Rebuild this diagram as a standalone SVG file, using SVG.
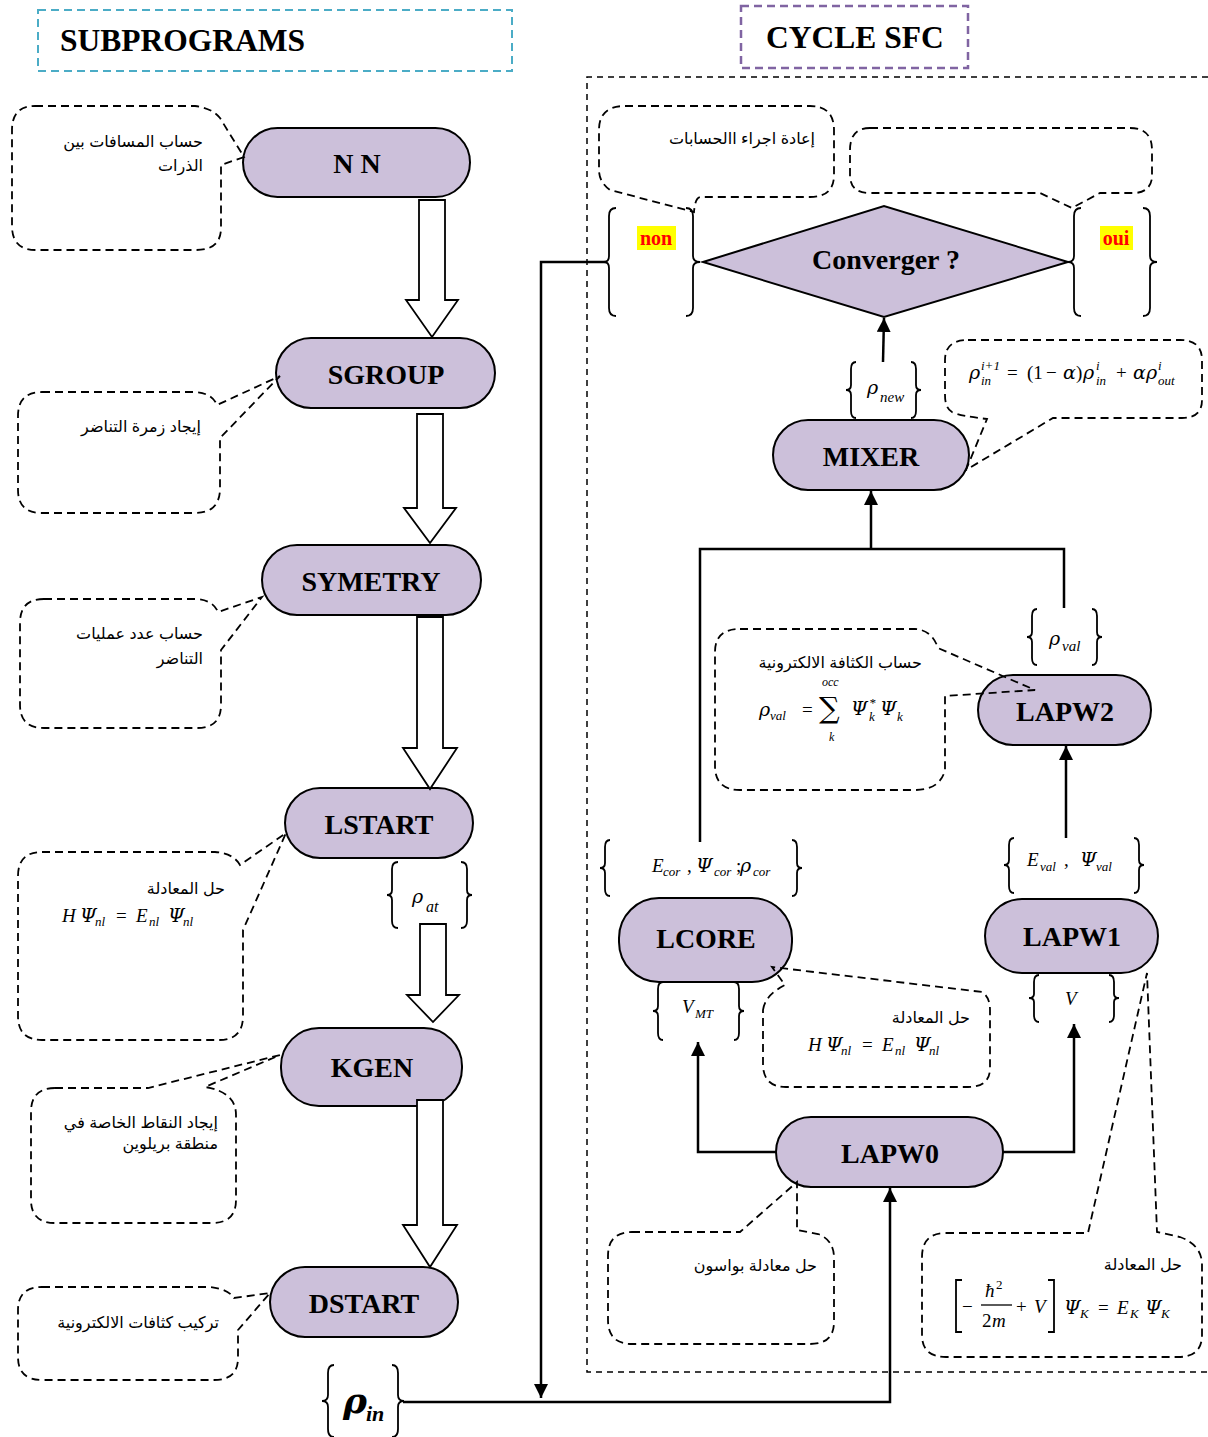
<svg xmlns="http://www.w3.org/2000/svg" width="1208" height="1437" viewBox="0 0 1208 1437">
<defs>
<marker id="ah" markerUnits="userSpaceOnUse" markerWidth="14" markerHeight="16" refX="14" refY="7" orient="auto">
<path d="M0,0 L14,7 L0,14 Z" fill="#000"/>
</marker>
<style>
.node{fill:#CCC0DA;stroke:#000;stroke-width:2}
.nt{font-family:"Liberation Serif","Times New Roman",serif;font-weight:bold;font-size:28px;fill:#000;text-anchor:middle}
.blk{fill:#fff;stroke:#000;stroke-width:1.8}
.co{fill:none;stroke:#000;stroke-width:1.8;stroke-dasharray:8 5}
.br{fill:none;stroke:#000;stroke-width:1.8}
.ln{fill:none;stroke:#000;stroke-width:2.5}
.ar{font-family:"Liberation Sans","DejaVu Sans",sans-serif;font-size:16px;fill:#000;text-anchor:end}
.m{font-family:"Liberation Serif","DejaVu Serif",serif;font-style:italic;font-size:19px;fill:#000}
.g{font-family:"DejaVu Serif",serif;font-style:italic}
.u{font-style:normal}
.s{font-size:13px}
</style>
</defs>
<rect width="1208" height="1437" fill="#fff"/>

<g id="title-sub">
<rect x="38" y="10" width="474" height="61" fill="none" stroke="#4BACC6" stroke-width="2" stroke-dasharray="8 5"/>
<text x="60" y="51" font-family="Liberation Serif,serif" font-weight="bold" font-size="31.5">SUBPROGRAMS</text>
</g>
<g id="title-cycle">
<rect x="741" y="6" width="227" height="62" fill="none" stroke="#8064A2" stroke-width="2.5" stroke-dasharray="8 5"/>
<text x="766" y="48" font-family="Liberation Serif,serif" font-weight="bold" font-size="31.5">CYCLE SFC</text>
</g>
<g id="cycle-frame">
<path d="M1208,77 H587 V1372 H1208" fill="none" stroke="#000" stroke-width="1.5" stroke-dasharray="6 5"/>
</g>

<g id="connectors">
<path class="ln" d="M606,262 H541 V1398" marker-end="url(#ah)"/>
<path class="ln" d="M403,1402 H890 V1188" marker-end="url(#ah)"/>
<path class="ln" d="M776,1152 H698 V1042" marker-end="url(#ah)"/>
<path class="ln" d="M1003,1152 H1074 V1024" marker-end="url(#ah)"/>
<path class="ln" d="M1066,838 V746" marker-end="url(#ah)"/>
<path class="ln" d="M700,842 V549 H1064 V608"/>
<path class="ln" d="M871,549 V491" marker-end="url(#ah)"/>
<path class="ln" d="M883,362 L884,318" marker-end="url(#ah)"/>
</g>

<g id="NN"><rect class="node" x="243" y="128" width="227" height="69" rx="34.5"/><text class="nt" x="357" y="173">N N</text></g>
<g id="SGROUP"><rect class="node" x="276" y="338" width="219" height="70" rx="35"/><text class="nt" x="386" y="384">SGROUP</text></g>
<g id="SYMETRY"><rect class="node" x="262" y="545" width="219" height="70" rx="35"/><text class="nt" x="371" y="591">SYMETRY</text></g>
<g id="LSTART"><rect class="node" x="285" y="788" width="188" height="70" rx="35"/><text class="nt" x="379" y="834">LSTART</text></g>
<g id="KGEN"><rect class="node" x="281" y="1028" width="181" height="78" rx="38"/><text class="nt" x="372" y="1077">KGEN</text></g>
<g id="DSTART"><rect class="node" x="270" y="1267" width="188" height="70" rx="35"/><text class="nt" x="364" y="1313">DSTART</text></g>
<g id="CONVERGER"><path class="node" d="M703,262 L884,206 L1068,262 L884,317 Z"/><text class="nt" x="886" y="269" font-size="29">Converger ?</text></g>
<g id="MIXER"><rect class="node" x="773" y="420" width="196" height="70" rx="35"/><text class="nt" x="871" y="466">MIXER</text></g>
<g id="LAPW2"><rect class="node" x="978" y="675" width="173" height="70" rx="35"/><text class="nt" x="1065" y="721">LAPW2</text></g>
<g id="LAPW1"><rect class="node" x="985" y="899" width="173" height="74" rx="37"/><text class="nt" x="1072" y="946">LAPW1</text></g>
<g id="LCORE"><rect class="node" x="619" y="898" width="173" height="84" rx="40"/><text class="nt" x="706" y="948">LCORE</text></g>
<g id="LAPW0"><rect class="node" x="776" y="1117" width="227" height="70" rx="35"/><text class="nt" x="890" y="1163">LAPW0</text></g>

<g id="block-arrows">
<path class="blk" d="M419,200 H445 V300 H458 L432,337 L406,300 H419 Z"/>
<path class="blk" d="M417,414 H443 V508 H456 L430,543 L404,508 H417 Z"/>
<path class="blk" d="M417,617 H443 V748 H457 L430,789 L403,748 H417 Z"/>
<path class="blk" d="M420,924 H446 V995 H459 L433,1022 L407,995 H420 Z"/>
<path class="blk" d="M417,1100 H443 V1225 H457 L430,1267 L403,1225 H417 Z"/>
</g>

<g id="callout-nn">
<path class="co" d="M35,106 H195 Q212,108 220,118 L244,157 L221,165 V228 Q221,250 196,250 H36 Q12,250 12,226 V130 Q12,106 35,106 Z"/>
<text class="ar" x="203" y="147">حساب المسافات بين</text>
<text class="ar" x="203" y="171">الذرات</text>
</g>
<g id="callout-sgroup">
<path class="co" d="M42,392 H195 Q212,393 217,405 L280,376 L220,438 V490 Q219,513 195,513 H42 Q18,513 18,490 V416 Q18,392 42,392 Z"/>
<text class="ar" x="201" y="432">إيجاد زمرة التناضر</text>
</g>
<g id="callout-symetry">
<path class="co" d="M44,599 H196 Q213,600 218,612 L262,597 L221,650 V705 Q221,728 197,728 H44 Q20,728 20,705 V623 Q20,599 44,599 Z"/>
<text class="ar" x="203" y="639">حساب عدد عمليات</text>
<text class="ar" x="203" y="664">التناضر</text>
</g>
<g id="callout-lstart">
<path class="co" d="M42,852 H215 Q233,853 240,865 L286,833 L243,930 V1016 Q243,1040 219,1040 H42 Q18,1040 18,1016 V876 Q18,852 42,852 Z"/>
<text class="ar" x="225" y="894">حل المعادلة</text>
<text class="m"><tspan x="62" y="922">H</tspan><tspan class="g" x="80" y="922">Ψ</tspan><tspan class="s" x="95" y="926">nl</tspan><tspan class="u" x="116" y="922">=</tspan><tspan x="136" y="922">E</tspan><tspan class="s" x="149" y="926">nl</tspan><tspan class="g" x="168" y="922">Ψ</tspan><tspan class="s" x="183" y="926">nl</tspan></text>
</g>
<g id="callout-kgen">
<path class="co" d="M55,1088 H148 L280,1055 L205,1087 Q236,1092 236,1115 V1200 Q236,1223 212,1223 H55 Q31,1223 31,1200 V1112 Q31,1088 55,1088 Z"/>
<text class="ar" x="218" y="1128" font-size="14.2">إيجاد النقاط الخاصة في</text>
<text class="ar" x="218" y="1149" font-size="14.2">منطقة بريلوين</text>
</g>
<g id="callout-dstart">
<path class="co" d="M42,1287 H210 Q228,1289 234,1298 L270,1293 L238,1330 V1358 Q238,1380 214,1380 H42 Q18,1380 18,1357 V1310 Q18,1287 42,1287 Z"/>
<text class="ar" x="219" y="1328" font-size="18">تركيب كثافات الالكترونية</text>
</g>
<g id="callout-non">
<path class="co" d="M625,106 H810 Q834,106 834,130 V175 Q834,197 810,197 H700 Q695,198 694,212 L610,190 Q599,182 599,170 V130 Q599,106 625,106 Z"/>
<text class="ar" x="815" y="144">إعادة اجراء االحسابات</text>
</g>
<g id="callout-oui">
<path class="co" d="M870,128 H1130 Q1152,128 1152,150 V178 Q1150,192 1135,193 H1100 L1072,208 L1040,193 H870 Q850,193 850,175 V150 Q850,128 870,128 Z"/>
</g>
<g id="callout-mixer">
<path class="co" d="M968,340 H1180 Q1202,340 1202,360 V400 Q1202,418 1182,418 H1053 L966,470 L987,419 Q960,416 952,412 Q945,408 945,395 V360 Q945,340 968,340 Z"/>
<text class="m"><tspan class="g" x="969" y="379">ρ</tspan><tspan class="s" x="981" y="370">i+1</tspan><tspan class="s" x="981" y="385">in</tspan><tspan class="u" x="1007" y="379">=</tspan><tspan class="u" x="1027" y="379">(1</tspan><tspan class="u" x="1046" y="379">−</tspan><tspan class="g" x="1063" y="379">α</tspan><tspan class="u" x="1076" y="379">)</tspan><tspan class="g" x="1083" y="379">ρ</tspan><tspan class="s" x="1096" y="370">i</tspan><tspan class="s" x="1096" y="385">in</tspan><tspan class="u" x="1116" y="379">+</tspan><tspan class="g" x="1133" y="379">α</tspan><tspan class="g" x="1146" y="379">ρ</tspan><tspan class="s" x="1158" y="370">i</tspan><tspan class="s" x="1158" y="385">out</tspan></text>
</g>
<g id="callout-lapw2">
<path class="co" d="M740,629 H915 Q932,630 938,648 L1035,690 L945,696 V770 Q940,790 915,790 H740 Q715,790 715,766 V652 Q715,629 740,629 Z"/>
<text class="ar" x="922" y="668" font-size="13.5">حساب الكثافة الالكترونية</text>
<text class="m" font-size="18"><tspan class="g" x="759" y="716">ρ</tspan><tspan class="s" x="770" y="720">val</tspan><tspan class="u" x="802" y="716">=</tspan><tspan class="u" x="819" y="718" font-family="DejaVu Serif,serif" font-size="29">∑</tspan><tspan x="822" y="686" font-size="12">occ</tspan><tspan x="829" y="741" font-size="12">k</tspan><tspan class="g" x="851" y="715">Ψ</tspan><tspan class="s" x="869" y="707">*</tspan><tspan class="s" x="869" y="721">k</tspan><tspan class="g" x="880" y="715">Ψ</tspan><tspan class="s" x="897" y="721">k</tspan></text>
</g>
<g id="callout-lcore">
<path class="co" d="M763,1010 Q765,995 785,985 L772,967 L982,992 Q990,997 990,1010 V1068 Q990,1087 968,1087 H786 Q763,1087 763,1064 Z"/>
<text class="ar" x="970" y="1023">حل المعادلة</text>
<text class="m"><tspan x="808" y="1051">H</tspan><tspan class="g" x="826" y="1051">Ψ</tspan><tspan class="s" x="841" y="1055">nl</tspan><tspan class="u" x="862" y="1051">=</tspan><tspan x="882" y="1051">E</tspan><tspan class="s" x="895" y="1055">nl</tspan><tspan class="g" x="914" y="1051">Ψ</tspan><tspan class="s" x="929" y="1055">nl</tspan></text>
</g>
<g id="callout-lapw0">
<path class="co" d="M632,1232 H740 L797,1182 V1230 L818,1234 Q834,1240 834,1258 V1322 Q834,1344 810,1344 H632 Q608,1344 608,1320 V1256 Q608,1232 632,1232 Z"/>
<text class="ar" x="817" y="1271" font-size="14">حل معادلة بواسون</text>
</g>
<g id="callout-lapw1">
<path class="co" d="M946,1233 H1088 L1147,973 L1157,1232 L1180,1237 Q1202,1245 1202,1265 V1335 Q1202,1357 1178,1357 H946 Q922,1357 922,1335 V1257 Q922,1233 946,1233 Z"/>
<text class="ar" x="1182" y="1270" font-size="14">حل المعادلة</text>
<path class="br" d="M962,1280 H956 V1332 H962 M1048,1280 H1054 V1332 H1048"/>
<path d="M981,1305 H1012" stroke="#000" stroke-width="1.3"/>
<text class="m" font-size="20"><tspan class="u" x="962" y="1313">−</tspan><tspan x="985" y="1297">ħ</tspan><tspan class="u s" x="996" y="1289">2</tspan><tspan class="u" x="982" y="1327">2</tspan><tspan x="992" y="1327">m</tspan><tspan class="u" x="1016" y="1313">+</tspan><tspan x="1034" y="1313">V</tspan><tspan class="g" x="1064" y="1314">Ψ</tspan><tspan class="s" x="1080" y="1318">K</tspan><tspan class="u" x="1098" y="1314">=</tspan><tspan x="1117" y="1314">E</tspan><tspan class="s" x="1130" y="1318">K</tspan><tspan class="g" x="1145" y="1314">Ψ</tspan><tspan class="s" x="1161" y="1318">K</tspan></text>
</g>

<g id="label-non">
<path class="br" d="M616,208 Q609,208 609,216 V256 Q609,262 604,262 Q609,262 609,268 V308 Q609,316 616,316"/>
<path class="br" d="M686,208 Q693,208 693,216 V256 Q693,262 700,262 Q693,262 693,268 V308 Q693,316 686,316"/>
<rect x="637" y="226" width="39" height="24" fill="#FFFF00"/>
<text x="656" y="245" text-anchor="middle" font-family="Liberation Serif,serif" font-weight="bold" font-size="20" fill="#FF0000">non</text>
</g>
<g id="label-oui">
<path class="br" d="M1081,208 Q1074,208 1074,216 V256 Q1074,262 1068,262 Q1074,262 1074,268 V308 Q1074,316 1081,316"/>
<path class="br" d="M1143,208 Q1150,208 1150,216 V256 Q1150,262 1157,262 Q1150,262 1150,268 V308 Q1150,316 1143,316"/>
<rect x="1100" y="226" width="33" height="24" fill="#FFFF00"/>
<text x="1116" y="245" text-anchor="middle" font-family="Liberation Serif,serif" font-weight="bold" font-size="20" fill="#FF0000">oui</text>
</g>
<g id="label-rho-at">
<path class="br" d="M398,862 Q392,862 392,869 V890 Q392,895 387,895 Q392,895 392,900 V921 Q392,928 398,928"/>
<path class="br" d="M461,862 Q467,862 467,869 V890 Q467,895 472,895 Q467,895 467,900 V921 Q467,928 461,928"/>
<text class="m" font-size="24"><tspan class="g" x="412" y="903">ρ</tspan><tspan x="426" y="912" font-size="16">at</tspan></text>
</g>
<g id="label-rho-new">
<path class="br" d="M856,362 Q851,362 851,369 V385 Q851,390 846,390 Q851,390 851,395 V411 Q851,418 856,418"/>
<path class="br" d="M911,362 Q916,362 916,369 V385 Q916,390 921,390 Q916,390 916,395 V411 Q916,418 911,418"/>
<text class="m" font-size="22"><tspan class="g" x="867" y="394">ρ</tspan><tspan x="880" y="402" font-size="15">new</tspan></text>
</g>
<g id="label-rho-val">
<path class="br" d="M1037,609 Q1032,609 1032,616 V632 Q1032,637 1027,637 Q1032,637 1032,642 V658 Q1032,665 1037,665"/>
<path class="br" d="M1092,609 Q1097,609 1097,616 V632 Q1097,637 1102,637 Q1097,637 1097,642 V658 Q1097,665 1092,665"/>
<text class="m" font-size="22"><tspan class="g" x="1049" y="645">ρ</tspan><tspan x="1062" y="651" font-size="15">val</tspan></text>
</g>
<g id="label-ecor">
<path class="br" d="M610,840 Q605,840 605,847 V863 Q605,868 600,868 Q605,868 605,873 V889 Q605,896 610,896"/>
<path class="br" d="M792,840 Q797,840 797,847 V863 Q797,868 802,868 Q797,868 797,873 V889 Q797,896 792,896"/>
<text class="m" font-size="17"><tspan x="652" y="872">E</tspan><tspan class="s" x="663" y="876">cor</tspan><tspan class="u" x="687" y="872">,</tspan><tspan class="g" x="696" y="872">Ψ</tspan><tspan class="s" x="714" y="876">cor</tspan><tspan class="u" x="736" y="872">;</tspan><tspan class="g" x="740" y="872">ρ</tspan><tspan class="s" x="753" y="876">cor</tspan></text>
</g>
<g id="label-eval">
<path class="br" d="M1014,838 Q1009,838 1009,845 V860 Q1009,865 1004,865 Q1009,865 1009,870 V886 Q1009,893 1014,893"/>
<path class="br" d="M1134,838 Q1139,838 1139,845 V860 Q1139,865 1144,865 Q1139,865 1139,870 V886 Q1139,893 1134,893"/>
<text class="m" font-size="19"><tspan x="1027" y="866">E</tspan><tspan class="s" x="1040" y="871">val</tspan><tspan class="u" x="1064" y="866">,</tspan><tspan class="g" x="1080" y="866">Ψ</tspan><tspan class="s" x="1096" y="871">val</tspan></text>
</g>
<g id="label-vmt">
<path class="br" d="M663,982 Q658,982 658,989 V1006 Q658,1011 653,1011 Q658,1011 658,1016 V1033 Q658,1040 663,1040"/>
<path class="br" d="M734,982 Q739,982 739,989 V1006 Q739,1011 744,1011 Q739,1011 739,1016 V1033 Q739,1040 734,1040"/>
<text class="m" font-size="19"><tspan x="682" y="1013">V</tspan><tspan class="s" x="695" y="1018">MT</tspan></text>
</g>
<g id="label-v">
<path class="br" d="M1039,975 Q1034,975 1034,982 V994 Q1034,998 1029,998 Q1034,998 1034,1002 V1015 Q1034,1022 1039,1022"/>
<path class="br" d="M1109,975 Q1114,975 1114,982 V994 Q1114,998 1119,998 Q1114,998 1114,1002 V1015 Q1114,1022 1109,1022"/>
<text class="m" x="1065" y="1005" font-size="19">V</text>
</g>
<g id="label-rho-in">
<path class="br" d="M334,1365 Q328,1365 328,1373 V1395 Q328,1401 322,1401 Q328,1401 328,1407 V1429 Q328,1437 334,1437"/>
<path class="br" d="M392,1365 Q398,1365 398,1373 V1395 Q398,1401 404,1401 Q398,1401 398,1407 V1429 Q398,1437 392,1437"/>
<text class="m" font-weight="bold" font-size="30"><tspan class="g" x="343" y="1413" font-size="36">ρ</tspan><tspan x="366" y="1421" font-size="22">in</tspan></text>
</g>
</svg>
